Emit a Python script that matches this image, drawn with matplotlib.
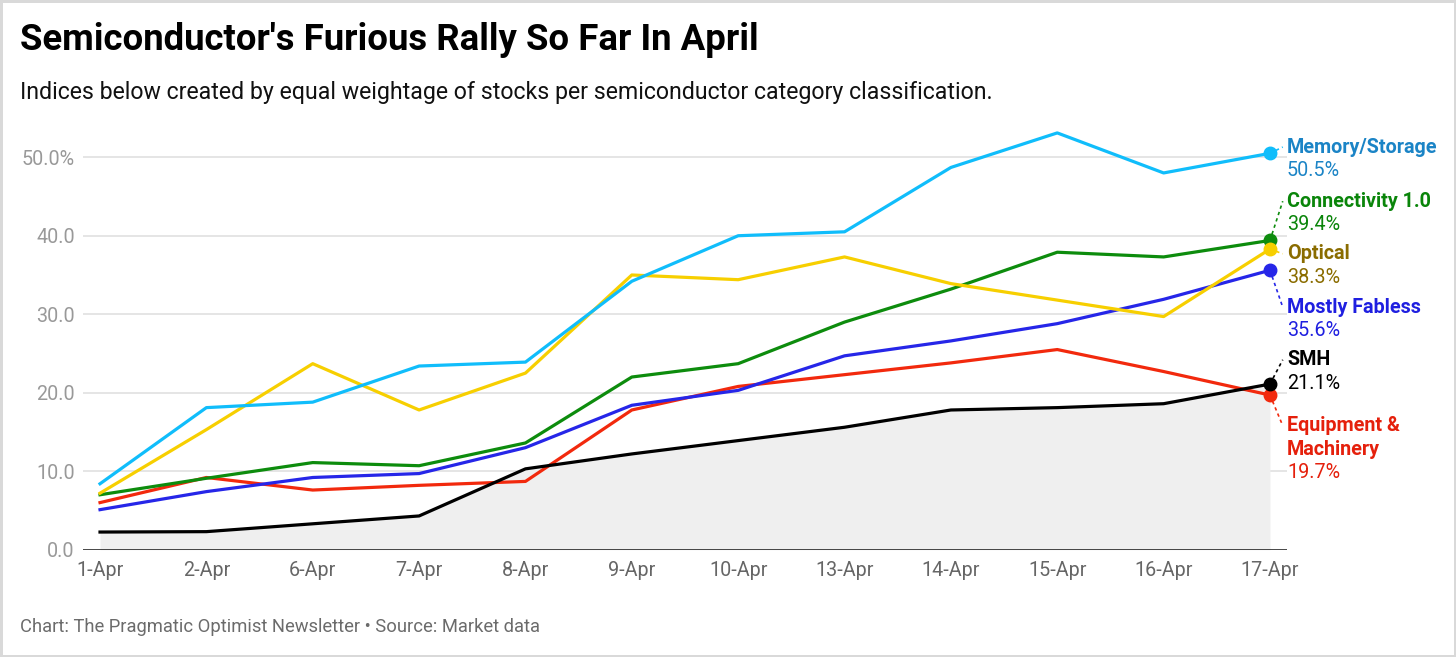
import numpy as np
import matplotlib
matplotlib.use("Agg")
import matplotlib.pyplot as plt

plt.rcParams['font.family'] = ['Roboto', 'DejaVu Sans']

dates = ["1-Apr", "2-Apr", "6-Apr", "7-Apr", "8-Apr", "9-Apr",
         "10-Apr", "13-Apr", "14-Apr", "15-Apr", "16-Apr", "17-Apr"]

memory = [8.4, 18.1, 18.8, 23.4, 23.9, 34.2, 40.0, 40.5, 48.7, 53.1, 48.0, 50.5]
optical = [7.2, 15.3, 23.7, 17.8, 22.5, 35.0, 34.4, 37.3, 33.9, 31.8, 29.7, 38.3]
connectivity = [7.0, 9.1, 11.1, 10.7, 13.6, 22.0, 23.7, 29.0, 33.2, 37.9, 37.3, 39.4]
fabless = [5.1, 7.4, 9.2, 9.7, 13.0, 18.4, 20.3, 24.7, 26.6, 28.8, 31.9, 35.6]
equipment = [6.0, 9.2, 7.6, 8.2, 8.7, 17.8, 20.8, 22.3, 23.8, 25.5, 22.7, 19.7]
smh = [2.25, 2.3, 3.3, 4.3, 10.3, 12.2, 13.9, 15.6, 17.8, 18.1, 18.6, 21.1]

# (name lines, values, line colour, label colour, label y of first name line)
series = [
    (["Equipment &", "Machinery"], equipment, "#f2290d", "#e5200c", 15.8),
    (["SMH"], smh, "#000000", "#000000", 24.2),
    (["Mostly Fabless"], fabless, "#2626e8", "#1f1fe0", 30.9),
    (["Connectivity 1.0"], connectivity, "#0d8c0d", "#0a850a", 44.4),
    (["Optical"], optical, "#f7cf00", "#8a6c00", 37.7),
    (["Memory/Storage"], memory, "#10bdfb", "#1b84c6", 51.3),
]

fig = plt.figure(figsize=(14.56, 6.57), dpi=100)
fig.patch.set_facecolor("white")
fig.patch.set_edgecolor("#d9d9d9")
fig.patch.set_linewidth(2.5)

ax = fig.add_axes([83 / 1456, 1 - 549.7 / 657, (1287 - 83) / 1456, (549.7 - 118) / 657])
x = np.arange(len(dates))

ax.fill_between(x, 0, smh, color="#efefef", lw=0, zorder=1)
for yv in [10, 20, 30, 40, 50]:
    ax.axhline(yv, color="#e3e3e3", lw=1.3, zorder=0)
ax.axhline(0, color="#111111", lw=1.8, zorder=5)

x_lab = 11.16
step = 23.5 / 7.846  # one text line, in data units
for lines, vals, lc, tc, ly in series:
    ax.plot(x, vals, color=lc, lw=2.3, zorder=3)
    ax.plot(x[-1], vals[-1], "o", color=lc, ms=9, zorder=4)
    ax.plot([x[-1], 11.12], [vals[-1], ly], color=lc, lw=1.2, ls=(0, (2, 2)),
            zorder=3, clip_on=False)
    for i, line in enumerate(lines):
        ax.text(x_lab, ly - i * step, line, color=tc, fontsize=14.2,
                fontweight="bold", va="center", ha="left", clip_on=False)
    ax.text(x_lab, ly - len(lines) * step, f"{vals[-1]:.1f}%", color=tc,
            fontsize=14.2, va="center", ha="left", clip_on=False)

ax.set_xlim(-0.16, 11.16)
ax.set_ylim(0, 55)
ax.set_xticks(x)
ax.set_xticklabels(dates)
ax.set_yticks([0, 10, 20, 30, 40, 50])
ax.set_yticklabels(["0.0", "10.0", "20.0", "30.0", "40.0", "50.0%"])
ax.tick_params(axis="x", length=0, pad=8, labelsize=14.2, labelcolor="#666666")
ax.tick_params(axis="y", length=0, pad=6, labelsize=14.2, labelcolor="#999999")
for s in ax.spines.values():
    s.set_visible(False)

fig.text(20 / 1456, 1 - 40 / 657, "Semiconductor's Furious Rally So Far In April",
         fontsize=26.3, fontweight="bold", va="center", ha="left", color="#000000")
fig.text(20 / 1456, 1 - 92 / 657,
         "Indices below created by equal weightage of stocks per semiconductor category classification.",
         fontsize=16.7, va="center", ha="left", color="#111111")
fig.text(20 / 1456, 1 - 627 / 657,
         "Chart: The Pragmatic Optimist Newsletter \u2022 Source: Market data",
         fontsize=13.2, va="center", ha="left", color="#6b6b6b")

fig.savefig("out.png", dpi=100, facecolor=fig.get_facecolor(), edgecolor=fig.get_edgecolor())
